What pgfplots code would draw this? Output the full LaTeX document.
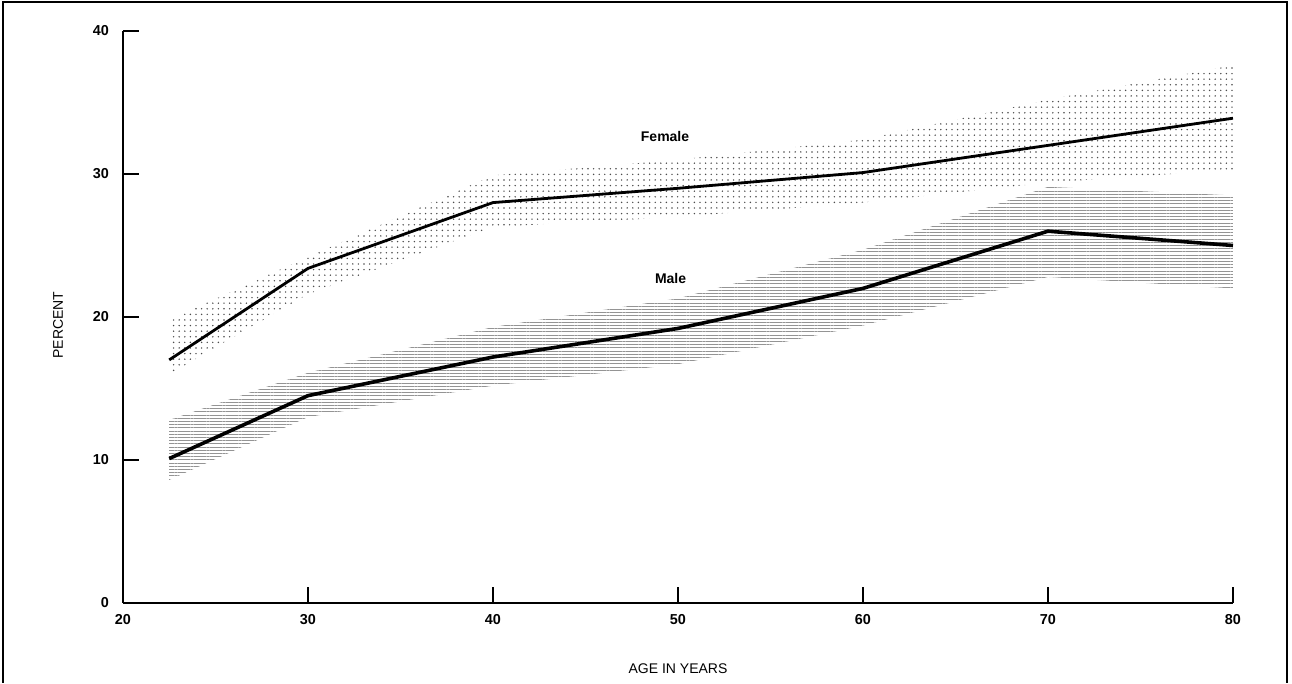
\documentclass[border=0pt]{standalone}
\usepackage{fontspec}
\setmainfont{Liberation Sans}
\usepackage{pgfplots}
\pgfplotsset{compat=1.18}
\usetikzlibrary{patterns.meta}
\begin{document}
\begin{tikzpicture}
\begin{axis}[
  scale only axis, width=555pt, height=286pt,
  xmin=20, xmax=80, ymin=0, ymax=40,
  axis lines*=left, axis line style={line width=1.1pt},
  xtick={20,30,...,80}, ytick={0,10,...,40},
  tick align=inside, major tick length=8pt,
  tick style={line width=1.1pt, black},
  ticklabel style={font=\fontsize{7.2}{8}\selectfont\bfseries},
  xticklabel style={yshift=-2pt},
  yticklabel style={xshift=-3.5pt},
  /pgf/number format/assume math mode=true,
  xlabel={AGE IN YEARS}, ylabel={PERCENT},
  label style={font=\fontsize{7}{8}\selectfont},
  xlabel style={at={(axis description cs:0.5,-0.1154)}, anchor=center},
  ylabel style={at={(axis description cs:-0.0586,0.486)}, anchor=center},
  clip=false,
]
% Female band
\addplot[draw=none, pattern={Dots[distance=2.8pt, radius=0.4pt]}, pattern color=black!70]
  coordinates {(22.5,19.8) (30,24.2) (40,29.9) (50,31) (60,32.4) (70,35.2) (80,37.6)
               (80,30.3) (70,29.4) (60,28) (50,27) (40,26.3) (30,21.6) (22.5,16)} -- cycle;
% Male band
\addplot[draw=none, pattern={Lines[angle=0, distance=1.6pt, line width=0.5pt]}, pattern color=black!42]
  coordinates {(22.5,12.8) (30,16.1) (40,19.3) (50,21.3) (60,24.7) (70,29.1) (80,28.5)
               (80,22) (70,22.8) (60,19.4) (50,16.7) (40,15.2) (30,13) (22.5,8.6)} -- cycle;
% Female line
\addplot[black, line width=1.4pt, mark=none]
  coordinates {(22.5,17) (30,23.4) (40,28) (50,29) (60,30.1) (70,32) (80,33.9)};
% Male line
\addplot[black, line width=1.8pt, mark=none]
  coordinates {(22.5,10.1) (30,14.5) (40,17.2) (50,19.2) (60,22) (70,26) (80,25)};
\node[font=\fontsize{7}{8}\selectfont\bfseries] at (axis cs:49.3,32.6) {Female};
\node[font=\fontsize{7}{8}\selectfont\bfseries] at (axis cs:49.6,22.7) {Male};
\end{axis}
\draw[line width=1pt] (-60pt,-40pt) -- (-60pt,300.5pt) -- (582pt,300.5pt) -- (582pt,-40pt);
\path (-61.5pt,-40pt) rectangle (584.5pt,301.5pt);
\end{tikzpicture}
\end{document}
